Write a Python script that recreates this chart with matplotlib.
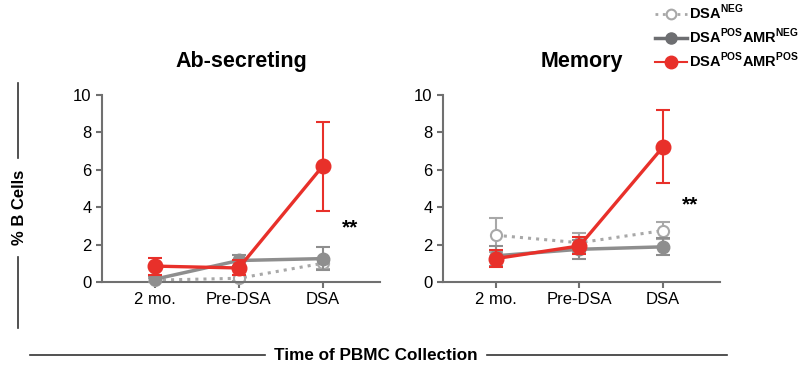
import matplotlib
matplotlib.use('Agg')
import matplotlib.pyplot as plt
from matplotlib.lines import Line2D
import numpy as np

plt.rcParams['font.family'] = ['Liberation Sans', 'DejaVu Sans']
plt.rcParams['mathtext.fontset'] = 'custom'
plt.rcParams['mathtext.bf'] = 'Liberation Sans:bold'
plt.rcParams['mathtext.rm'] = 'Liberation Sans:bold'

timepoints = ['2 mo.', 'Pre-DSA', 'DSA']
titles = ['Ab-secreting', 'Memory']

# values: [Ab-secreting, Memory]
neg_mean = [[0.1, 0.2, 1.0], [2.5, 2.1, 2.75]]
neg_err = [[0.1, 0.15, 0.3], [0.9, 0.5, 0.45]]
posneg_mean = [[0.15, 1.15, 1.25], [1.4, 1.75, 1.88]]
posneg_err = [[0.15, 0.3, 0.6], [0.55, 0.5, 0.45]]
pospos_mean = [[0.85, 0.75, 6.2], [1.25, 1.93, 7.23]]
pospos_err = [[0.45, 0.4, 2.38], [0.45, 0.45, 1.95]]
star_y = [2.9, 4.1]

red = '#E8302A'
gray = '#8E8E8E'
dgray = '#6D6E71'

fig = plt.figure(figsize=(8.03, 3.66), dpi=100)
axes = [fig.add_axes([0.127, 0.2295, 0.346, 0.511]),
        fig.add_axes([0.5517, 0.2295, 0.345, 0.511])]
x = np.arange(len(timepoints))

for i, ax in enumerate(axes):
    ax.errorbar(x, neg_mean[i], yerr=neg_err[i], color='#A8A8A8', ls=':', lw=2.2,
                marker='o', ms=8, mfc='white', mec='#A8A8A8', mew=1.5,
                capsize=5, elinewidth=1.5, capthick=1.5, clip_on=False, zorder=2)
    ax.errorbar(x, posneg_mean[i], yerr=posneg_err[i], color=gray, ls='-', lw=2.5,
                marker='o', ms=9, capsize=5, elinewidth=1.5, capthick=1.5,
                clip_on=False, zorder=3)
    ax.errorbar(x, pospos_mean[i], yerr=pospos_err[i], color=red, ls='-', lw=2.4,
                marker='o', ms=10.5, capsize=5, elinewidth=1.5, capthick=1.5,
                clip_on=False, zorder=4)
    ax.text(2.32, star_y[i], '**', fontsize=15, fontweight='bold', ha='center', va='center')
    ax.set_xlim(-0.63, 2.68)
    ax.set_ylim(0, 10)
    ax.set_yticks([0, 2, 4, 6, 8, 10])
    ax.set_xticks(x)
    ax.set_xticklabels(timepoints)
    ax.spines['top'].set_visible(False)
    ax.spines['right'].set_visible(False)
    for s in ['left', 'bottom']:
        ax.spines[s].set_color('#707070')
        ax.spines[s].set_linewidth(1.5)
    ax.tick_params(colors='#707070', labelcolor='black', labelsize=12, width=1.5, length=4)
    ax.set_title(titles[i], fontsize=15.5, fontweight='bold', pad=20)

# y label with lines
fig.text(20 / 803, 1 - 207 / 366, '% B Cells', rotation=90, fontsize=12,
         fontweight='bold', ha='center', va='center')
fig.add_artist(Line2D([18 / 803, 18 / 803], [1 - 83 / 366, 1 - 158 / 366], color='#333333', lw=1.2))
fig.add_artist(Line2D([18 / 803, 18 / 803], [1 - 257 / 366, 1 - 328 / 366], color='#333333', lw=1.2))

# x label with lines
fig.text(376 / 803, 1 - 355 / 366, 'Time of PBMC Collection', fontsize=12.3,
         fontweight='bold', ha='center', va='center')
fig.add_artist(Line2D([30 / 803, 265 / 803], [1 - 355 / 366, 1 - 355 / 366], color='#333333', lw=1.2))
fig.add_artist(Line2D([487 / 803, 727 / 803], [1 - 355 / 366, 1 - 355 / 366], color='#333333', lw=1.2))

handles = [
    Line2D([], [], color='#A8A8A8', ls=':', lw=2, marker='o', ms=7, mfc='white', mec='#A8A8A8', mew=1.5),
    Line2D([], [], color=dgray, ls='-', lw=2.5, marker='o', ms=8),
    Line2D([], [], color=red, ls='-', lw=1.5, marker='o', ms=9),
]
labels = [r'DSA$^{\mathbf{NEG}}$', r'DSA$^{\mathbf{POS}}$AMR$^{\mathbf{NEG}}$',
          r'DSA$^{\mathbf{POS}}$AMR$^{\mathbf{POS}}$']
leg = fig.legend(handles, labels, loc='upper left', bbox_to_anchor=(655 / 803, 1 - 3 / 366),
                 frameon=False, handlelength=2.2, handletextpad=0.1, labelspacing=0.3,
                 borderpad=0, borderaxespad=0, prop={'weight': 'bold', 'size': 10.5})

fig.savefig('out.png', dpi=100)
